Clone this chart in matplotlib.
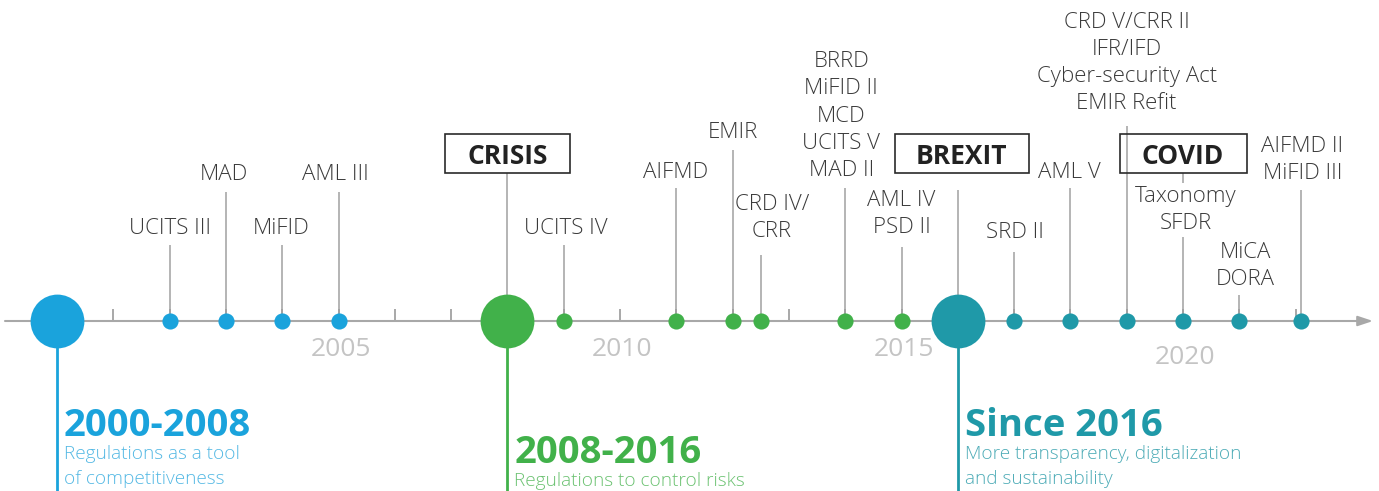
import matplotlib.pyplot as plt
from matplotlib.patches import Rectangle

plt.rcParams['font.family'] = ['Open Sans', 'DejaVu Sans']

# era data
era_years = [2000, 2008, 2016]
era_titles = ['2000-2008', '2008-2016', 'Since 2016']
era_texts = ['Regulations as a tool\nof competitiveness',
             'Regulations to control risks',
             'More transparency, digitalization\nand sustainability']
era_colors = ['#1aa3dc', '#41b14a', '#1f99a8']
era_light = ['#55b9e4', '#6cc272', '#4eacb7']

# regulations
reg_years = [2002, 2003, 2004, 2005, 2009, 2011, 2012, 2012.5, 2014, 2015,
             2017, 2018, 2019, 2020, 2021, 2022.1]
reg_labels = ['UCITS III', 'MAD', 'MiFID', 'AML III', 'UCITS IV', 'AIFMD', 'EMIR',
              'CRD IV/\nCRR', 'BRRD\nMiFID II\nMCD\nUCITS V\nMAD II', 'AML IV\nPSD II',
              'SRD II', 'AML V', 'CRD V/CRR II\nIFR/IFD\nCyber-security Act\nEMIR Refit',
              'Taxonomy\nSFDR', 'MiCA\nDORA', 'AIFMD II\nMiFID III']

# milestones
event_years = [2008, 2016, 2020]
event_labels = ['CRISIS', 'BREXIT', 'COVID']

axis_years = [2005, 2010, 2015, 2020]

# layout (pixels): label centre y, stem top y, label x shift
lab_y = [228, 175, 228, 175, 228, 173, 133, 218, 116, 214, 233, 172, 63, 210, 266, 160]
stem_top = [245, 192, 245, 192, 245, 188, 150, 255, 188, 247, 252, 188, 126, 237, 295, 190]
lab_dx = [0, -2, -1, -3, 2, -1, 0, 11, -4, 0, 1, -1, 0, 3, 6, 1]
box_w = [125, 134, 127]
box_dx = [0, 4, 0]

PX = 56.3                     # pixels per year
def px(d):
    return d / PX

fig = plt.figure(figsize=(13.79, 4.91), dpi=100)
ax = fig.add_axes([0, 0, 1, 1])
x0 = 2000 - 57 / PX
ax.set_xlim(x0, x0 + 1379 / PX)
ax.set_ylim(491, 0)
ax.axis('off')

AY = 321
grey = '#a8a8a8'

# axis with arrow
ax.annotate('', xy=(x0 + px(1373), AY), xytext=(x0 + px(5), AY),
            arrowprops=dict(arrowstyle='-|>,head_length=0.9,head_width=0.3',
                            color=grey, lw=1.5, shrinkA=0, shrinkB=0))
ax.vlines(range(2001, 2023), AY - 12, AY, color=grey, lw=1.4, zorder=1)

for yr, lab in zip(axis_years, axis_years):
    yy = 358 if yr == 2020 else 350
    ax.text(yr + px(2), yy, str(lab), ha='center', va='center', fontsize=19,
            color='#c4c4c4')

def era_of(yr):
    if yr < 2008:
        return 0
    if yr < 2016:
        return 1
    return 2

# regulation stems, dots and labels
for i, (yr, lab) in enumerate(zip(reg_years, reg_labels)):
    c = era_colors[era_of(yr)]
    ax.vlines(yr, stem_top[i], AY, color='#a0a0a0', lw=1.1, zorder=2)
    ax.scatter([yr], [AY], s=135, color=c, zorder=4, linewidths=0)
    ax.text(yr + px(lab_dx[i]), lab_y[i], lab, ha='center', va='center',
            fontsize=16, fontweight='light', color='#3a3a3a', linespacing=1.38)

# milestone boxes
for i, (yr, lab) in enumerate(zip(event_years, event_labels)):
    cx = yr + px(box_dx[i])
    ax.add_patch(Rectangle((cx - px(box_w[i] / 2), 134), px(box_w[i]), 39,
                           fill=False, ec='#2a2a2a', lw=1.2, zorder=3))
    ax.text(cx, 156, lab, ha='center', va='center', fontsize=19,
            fontweight='bold', color='#222222')
# stems from boxes
ax.vlines(2008, 173, AY, color='#a0a0a0', lw=1.1, zorder=2)
ax.vlines(2016, 190, AY, color='#a0a0a0', lw=1.1, zorder=2)
ax.vlines(2020, 173, 183, color='#a0a0a0', lw=1.1, zorder=2)

# eras
for i, yr in enumerate(era_years):
    c = era_colors[i]
    ax.vlines(yr, AY, 491, color=c, lw=2, zorder=2)
    ax.scatter([yr], [AY], s=1500, color=c, zorder=5, linewidths=0)
    ty = 453 if i == 1 else 426
    ax.text(yr + px(7), ty, era_titles[i], ha='left', va='center', fontsize=27.5,
            fontweight='bold', color=c)
    ax.text(yr + px(7), ty + 19, era_texts[i], ha='left', va='top', fontsize=13.7,
            fontweight='light', color=era_light[i], linespacing=1.5)

fig.savefig('out.png', dpi=100)
